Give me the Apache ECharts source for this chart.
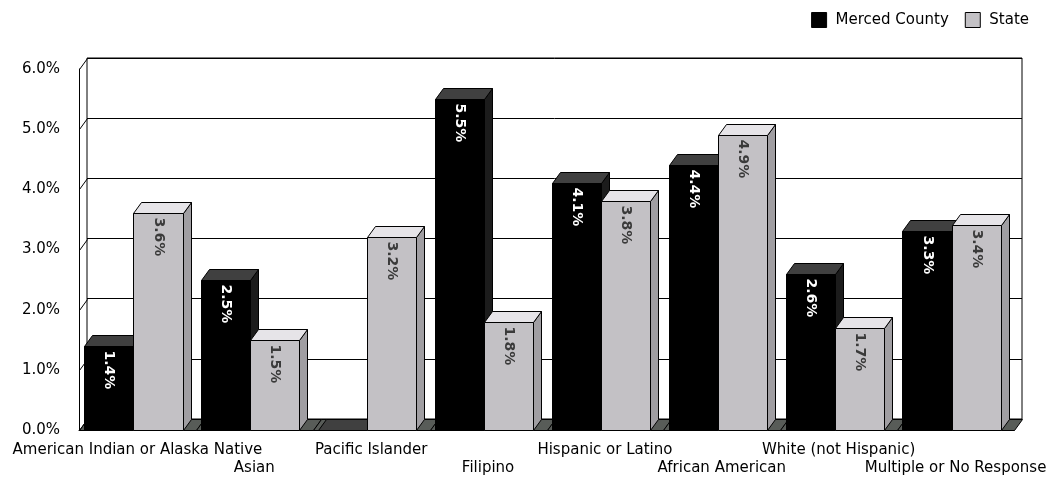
<!DOCTYPE html>
<html>
<head>
<meta charset="utf-8">
<title>Merced County vs State</title>
<script src="https://cdn.jsdelivr.net/npm/echarts@6/dist/echarts.min.js"></script>
<style>
  html, body { margin: 0; padding: 0; background: #fff; }
  #main { width: 1061px; height: 483px; }
</style>
</head>
<body>
<div id="main"></div>
<script>
// data
var categories = ['American Indian or Alaska Native', 'Asian', 'Pacific Islander', 'Filipino',
  'Hispanic or Latino', 'African American', 'White (not Hispanic)', 'Multiple or No Response'];
var mercedValues = [1.4, 2.5, 0, 5.5, 4.1, 4.4, 2.6, 3.3];
var stateValues = [3.6, 1.5, 3.2, 1.8, 3.8, 4.9, 1.7, 3.4];
var yTicks = [0, 1, 2, 3, 4, 5, 6];

// 3d depth of walls and bars
var DX = 8, DY = 11;
var FRONT = { left: 79, top: 69, width: 935, height: 361 };
var BAR_RATIO = 0.42;
var FONT = 'DejaVu Sans';
var FS = 15;

var BLACK = { front: '#000000', top: '#404040', side: '#1c1c1c', text: '#ffffff' };
var GRAY = { front: '#c3c1c5', top: '#e6e4e8', side: '#a09ea2', text: '#3a3a3a' };

function px(v) { return Math.round(v) + 0.5; }

function renderBar(slot, col) {
  return function (params, api) {
    var i = api.value(0), v = api.value(1);
    var base = api.coord([i, 0]);
    var peak = api.coord([i, v]);
    var w = api.size([1, 0])[0] * BAR_RATIO;
    var start = base[0] - (2 * w + DX) / 2;
    var x0 = px(start + slot * w), x1 = px(start + (slot + 1) * w);
    var y0 = px(base[1]), y1 = px(peak[1]);
    var line = { stroke: '#000', lineWidth: 1 };
    var children = [
      { type: 'polygon', shape: { points: [[x1, y1], [x1 + DX, y1 - DY], [x1 + DX, y0 - DY], [x1, y0]] },
        style: Object.assign({ fill: col.side }, line) },
      { type: 'polygon', shape: { points: [[x0, y1], [x1, y1], [x1 + DX, y1 - DY], [x0 + DX, y1 - DY]] },
        style: Object.assign({ fill: col.top }, line) },
      { type: 'rect', shape: { x: x0, y: y1, width: x1 - x0, height: y0 - y1 },
        style: Object.assign({ fill: col.front }, line) }
    ];
    if (v > 0) {
      children.push({
        type: 'text', x: (x0 + x1) / 2, y: y1 + 4, rotation: -Math.PI / 2,
        style: { text: v.toFixed(1) + '%', fill: col.text, font: 'bold 14px ' + FONT,
          align: 'left', verticalAlign: 'middle' }
      });
    }
    return { type: 'group', children: children };
  };
}

function renderFloor(params, api) {
  var i = api.value(0);
  var c = api.coord([i, 0]);
  var cw = api.size([1, 0])[0];
  var l = px(c[0] - cw / 2), r = px(c[0] + cw / 2), y = px(c[1]);
  return {
    type: 'polygon',
    shape: { points: [[l, y], [r, y], [r + DX, y - DY], [l + DX, y - DY]] },
    style: { fill: '#585c58', stroke: '#000', lineWidth: 1 }
  };
}

function renderTick(params, api) {
  var c = api.coord([0, api.value(1)]);
  var cw = api.size([1, 0])[0];
  var x = px(c[0] - cw / 2), y = px(c[1]);
  return {
    type: 'line',
    shape: { x1: x, y1: y, x2: x + DX, y2: y - DY },
    style: { stroke: '#000', lineWidth: 1 }
  };
}

var myChart = echarts.init(document.getElementById('main'));

var option = {
  animation: false,
  backgroundColor: '#fff',
  legend: {
    top: 7,
    right: 27,
    icon: 'rect',
    itemWidth: 15,
    itemHeight: 15,
    itemGap: 16,
    textStyle: { fontFamily: FONT, fontSize: FS, color: '#000', padding: [0, 0, 0, 4] },
    data: [
      { name: 'Merced County', itemStyle: { color: BLACK.front, borderColor: '#000', borderWidth: 1 } },
      { name: 'State', itemStyle: { color: GRAY.front, borderColor: '#000', borderWidth: 1 } }
    ]
  },
  grid: [
    { left: FRONT.left, top: FRONT.top, width: FRONT.width, height: FRONT.height },
    { left: FRONT.left + DX, top: FRONT.top - DY, width: FRONT.width, height: FRONT.height,
      show: true, borderColor: '#000', borderWidth: 1, backgroundColor: '#fff' }
  ],
  xAxis: [
    {
      type: 'category', gridIndex: 0, data: categories,
      axisLine: { lineStyle: { color: '#000', width: 1 } },
      axisTick: { show: false },
      axisLabel: {
        interval: 0,
        margin: 13,
        color: '#000',
        fontFamily: FONT,
        fontSize: FS,
        formatter: function (v, i) { return (i % 2 ? '{b|' : '{a|') + v + '}'; },
        rich: {
          a: { fontFamily: FONT, fontSize: FS, color: '#000' },
          b: { fontFamily: FONT, fontSize: FS, color: '#000', padding: [18, 0, 0, 0] }
        }
      }
    },
    { type: 'category', gridIndex: 1, data: categories, show: false }
  ],
  yAxis: [
    {
      type: 'value', gridIndex: 0, min: 0, max: 6, interval: 1,
      axisLine: { show: true, lineStyle: { color: '#000', width: 1 } },
      axisTick: { show: false },
      splitLine: { show: false },
      axisLabel: {
        color: '#000', fontFamily: FONT, fontSize: FS, margin: 19,
        formatter: function (v) { return v.toFixed(1) + '%'; }
      }
    },
    {
      type: 'value', gridIndex: 1, min: 0, max: 6, interval: 1,
      axisLine: { show: false },
      axisTick: { show: false },
      axisLabel: { show: false },
      splitLine: { lineStyle: { color: '#000', width: 1 } }
    }
  ],
  series: [
    { type: 'custom', xAxisIndex: 0, yAxisIndex: 0, silent: true, z: 1,
      data: categories.map(function (c, i) { return [i, 0]; }), renderItem: renderFloor },
    { type: 'custom', xAxisIndex: 0, yAxisIndex: 0, silent: true, z: 1,
      data: yTicks.map(function (v) { return [0, v]; }), renderItem: renderTick },
    { name: 'Merced County', type: 'custom', xAxisIndex: 0, yAxisIndex: 0, z: 3,
      itemStyle: { color: BLACK.front },
      data: mercedValues.map(function (v, i) { return [i, v]; }), renderItem: renderBar(0, BLACK) },
    { name: 'State', type: 'custom', xAxisIndex: 0, yAxisIndex: 0, z: 3,
      itemStyle: { color: GRAY.front },
      data: stateValues.map(function (v, i) { return [i, v]; }), renderItem: renderBar(1, GRAY) }
  ]
};

myChart.setOption(option);
</script>
</body>
</html>
